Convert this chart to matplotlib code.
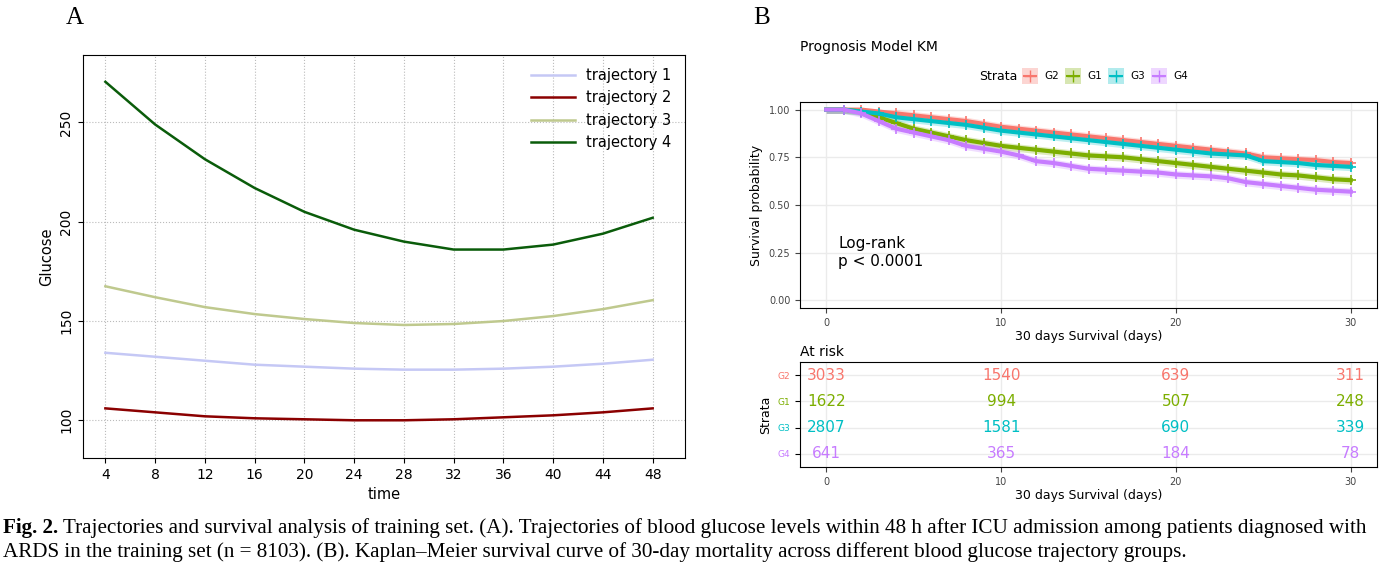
import matplotlib.pyplot as plt
import numpy as np

# panel A: glucose trajectories
time = [4, 8, 12, 16, 20, 24, 28, 32, 36, 40, 44, 48]
traj1 = [134, 132, 130, 128, 127, 126, 125.5, 125.5, 126, 127, 128.5, 130.5]
traj2 = [106, 104, 102, 101, 100.5, 100, 100, 100.5, 101.5, 102.5, 104, 106]
traj3 = [167.5, 162, 157, 153.5, 151, 149, 148, 148.5, 150, 152.5, 156, 160.5]
traj4 = [270.5, 249, 231.5, 217, 205, 196, 190, 186, 186, 188.5, 194, 202]

# panel B: KM curves (time, survival)
km_t = [0, 1, 2, 3, 4, 5, 6, 7, 8, 9, 10, 11, 12, 13, 14, 15, 16, 17, 18, 19, 20,
        21, 22, 23, 24, 25, 26, 27, 28, 29, 30]
km = {
    'G2': [1, 1, 1, .99, .98, .97, .96, .95, .94, .925, .91, .90, .89, .88, .87, .86,
           .85, .84, .83, .82, .81, .80, .79, .78, .77, .75, .745, .74, .735, .725, .72],
    'G1': [1, 1, .99, .96, .93, .90, .88, .86, .84, .825, .81, .80, .79, .78, .77, .76,
           .755, .75, .74, .73, .72, .71, .70, .69, .68, .67, .66, .655, .645, .635, .63],
    'G3': [1, 1, .99, .98, .96, .95, .94, .93, .92, .905, .89, .88, .87, .86, .85, .84,
           .83, .82, .81, .80, .79, .78, .77, .765, .76, .73, .725, .72, .71, .705, .70],
    'G4': [1, 1, .98, .94, .90, .88, .86, .84, .81, .795, .78, .76, .73, .72, .705, .69,
           .685, .68, .675, .67, .66, .655, .65, .64, .62, .61, .60, .59, .58, .575, .57],
}
km_colors = {'G2': '#F8766D', 'G1': '#7CAE00', 'G3': '#00BFC4', 'G4': '#C77CFF'}
risk_times = [0, 10, 20, 30]
risk = {'G2': [3033, 1540, 639, 311], 'G1': [1622, 994, 507, 248],
        'G3': [2807, 1581, 690, 339], 'G4': [641, 365, 184, 78]}

W, H = 1392, 578
fig = plt.figure(figsize=(W / 100, H / 100), dpi=100)

def box(l, t, r, b):
    return [l / W, 1 - b / H, (r - l) / W, (b - t) / H]

# ---- A ----
ax = fig.add_axes(box(83, 55, 685, 458))
for y, c, lab in [(traj1, '#c5c8f5', 'trajectory 1'), (traj2, '#8b0000', 'trajectory 2'),
                  (traj3, '#bfc98e', 'trajectory 3'), (traj4, '#0a5c0a', 'trajectory 4')]:
    ax.plot(time, y, color=c, lw=1.8, label=lab)
ax.set_xlim(2.2, 50.6)
ax.set_ylim(81, 284)
ax.set_xticks(time)
ax.set_yticks([100, 150, 200, 250])
ax.tick_params(axis='y', labelrotation=90)
for t in ax.get_yticklabels():
    t.set_va('center')
ax.grid(True, ls=':', color='#bbbbbb')
ax.set_xlabel('time', fontsize=10.5)
ax.set_ylabel('Glucose', fontsize=10.5)
ax.tick_params(labelsize=10)
ax.legend(frameon=False, fontsize=10.5, loc='upper right', handlelength=3)
fig.text(75 / W, 1 - 18 / H, 'A', fontsize=18, family='Liberation Serif', va='center', ha='center')
fig.text(762 / W, 1 - 18 / H, 'B', fontsize=18, family='Liberation Serif', va='center', ha='center')

# ---- B main ----
bx = fig.add_axes(box(800, 102, 1377, 308))
for g in ['G2', 'G1', 'G3', 'G4']:
    c = km_colors[g]
    s = np.array(km[g])
    bx.fill_between(km_t, s - 0.02, np.minimum(s + 0.02, 1), color=c, alpha=0.25, lw=0)
    bx.plot(km_t, s, color=c, lw=3)
    bx.plot(km_t[1:], s[1:], '+', color=c, ms=7, mew=1.2)
bx.set_xlim(-1.5, 31.5)
bx.set_ylim(-0.04, 1.04)
bx.set_xticks(risk_times)
bx.set_yticks([0, .25, .5, .75, 1])
bx.set_yticklabels(['0.00', '0.25', '0.50', '0.75', '1.00'])
bx.tick_params(labelsize=7, colors='#444444')
bx.grid(True, color='#ebebeb', lw=1)
bx.set_axisbelow(True)
bx.set_xlabel('30 days Survival (days)', fontsize=9, labelpad=2)
bx.set_ylabel('Survival probability', fontsize=9)
bx.text(0.7, 0.25, 'Log-rank\np < 0.0001', fontsize=11, va='center')
fig.text(800 / W, 1 - 47 / H, 'Prognosis Model KM', fontsize=10, va='center')
fig.text(1017 / W, 1 - 76 / H, 'Strata', fontsize=9, va='center', ha='right')
x0 = 1022
for g in ['G2', 'G1', 'G3', 'G4']:
    c = km_colors[g]
    fig.patches.append(plt.Rectangle(((x0) / W, 1 - 84 / H), 16 / W, 16 / H,
                                     transform=fig.transFigure, color=c, alpha=0.3, lw=0))
    fig.lines.append(plt.Line2D([(x0 + 2) / W, (x0 + 14) / W], [1 - 76 / H] * 2,
                                transform=fig.transFigure, color=c, lw=1.5))
    fig.lines.append(plt.Line2D([(x0 + 8) / W], [1 - 76 / H], marker='+', ms=8,
                                transform=fig.transFigure, color=c))
    fig.text((x0 + 22) / W, 1 - 76 / H, g, fontsize=7.5, va='center')
    x0 += 43

# ---- B risk table ----
rx = fig.add_axes(box(800, 362, 1377, 467))
rows = ['G2', 'G1', 'G3', 'G4']
for i, g in enumerate(rows):
    for tx, n in zip(risk_times, risk[g]):
        rx.text(tx, 3 - i, str(n), color=km_colors[g], ha='center', va='center', fontsize=11)
rx.set_xlim(-1.5, 31.5)
rx.set_ylim(-0.5, 3.5)
rx.set_yticks([3, 2, 1, 0])
rx.set_yticklabels(rows, fontsize=6.5)
for lab, g in zip(rx.get_yticklabels(), rows):
    lab.set_color(km_colors[g])
rx.set_xticks(risk_times)
rx.tick_params(axis='x', labelsize=7, colors='#444444')
rx.grid(True, color='#ebebeb', lw=1)
rx.set_xlabel('30 days Survival (days)', fontsize=9, labelpad=2)
rx.set_ylabel('Strata', fontsize=9)
fig.text(800 / W, 1 - 352 / H, 'At risk', fontsize=10, va='center')

# ---- caption ----
cap1 = (' Trajectories and survival analysis of training set. (A). Trajectories of blood glucose levels '
        'within 48 h after ICU admission among patients diagnosed with')
cap2 = ('ARDS in the training set (n = 8103). (B). Kaplan\u2013Meier survival curve of 30-day mortality '
        'across different blood glucose trajectory groups.')
fs = 15.2
t0 = fig.text(3 / W, 1 - 528 / H, 'Fig. 2.', fontsize=fs, family='Liberation Serif',
              weight='bold', va='center')
fig.canvas.draw()
bb = t0.get_window_extent()
fig.text(bb.x1 / W, 1 - 528 / H, cap1, fontsize=fs, family='Liberation Serif', va='center')
fig.text(3 / W, 1 - 552 / H, cap2, fontsize=fs, family='Liberation Serif', va='center')

fig.savefig('out.png', dpi=100)
